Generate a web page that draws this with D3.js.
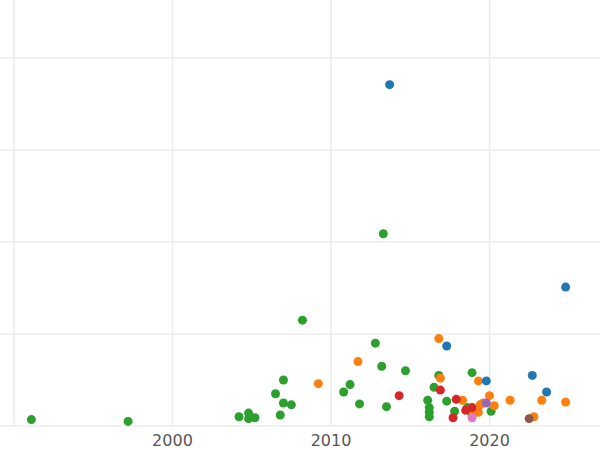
<!DOCTYPE html>
<html><head><meta charset="utf-8">
<script src="https://cdn.jsdelivr.net/npm/d3@7"></script>
<style>body{margin:0;background:#fff}</style>
</head><body><div id="chart"></div>
<script>
//Data: [year, value]
var blue = [[2013.7,3.71],[2024.8,1.51],[2017.3,0.87],[2022.7,0.55],[2019.8,0.49],[2023.6,0.37]];
var orange = [[2016.8,0.95],[2011.7,0.70],[2009.2,0.46],[2016.9,0.52],[2019.3,0.49],[2020,0.33],[2021.3,0.28],
  [2023.3,0.28],[2024.8,0.26],[2022.8,0.10],[2018.3,0.28],[2019.4,0.23],[2019.3,0.15],[2020.3,0.22],[2018.8,0.17],[2019.6,0.25]];
var green = [[1991.1,0.07],[1997.2,0.05],[2008.2,1.15],[2013.3,2.09],[2012.8,0.90],[2013.2,0.65],[2014.7,0.60],
  [2007.0,0.50],[2006.5,0.35],[2010.8,0.37],[2011.2,0.45],[2011.8,0.24],[2013.5,0.21],[2007.0,0.25],[2007.5,0.23],
  [2006.8,0.12],[2004.2,0.10],[2004.8,0.14],[2004.8,0.08],[2005.2,0.09],[2016.5,0.42],[2016.8,0.55],[2016.1,0.28],
  [2016.2,0.20],[2016.2,0.15],[2016.2,0.10],[2017.3,0.27],[2018.9,0.58],[2017.8,0.16],[2020.1,0.16],[2018.6,0.20],[2018.9,0.12]];
var red = [[2014.3,0.33],[2016.9,0.39],[2017.9,0.29],[2017.7,0.09],[2018.5,0.17],[2018.9,0.20]];
var purple = [[2019.8,0.25]];
var pink = [[2018.9,0.09]];
var brown = [[2022.5,0.08]];
var xTicks = [1990, 2000, 2010, 2020];
var yTicks = [0, 1, 2, 3, 4];

var series = [
  {pts: green, color: "#2ca02c"},
  {pts: orange, color: "#ff7f0e"},
  {pts: blue, color: "#1f77b4"},
  {pts: red, color: "#d62728"},
  {pts: purple, color: "#9467bd"},
  {pts: pink, color: "#e377c2"},
  {pts: brown, color: "#8c564b"}
];

var width = 600, height = 450;
var x = d3.scaleLinear().domain([1989.12, 2026.97]).range([0, width]);
var y = d3.scaleLinear().domain([0, 4.63]).range([426, 0]);

var svg = d3.select("#chart").append("svg").attr("width", width).attr("height", height);

svg.append("g").selectAll("line").data(xTicks).enter().append("line")
  .attr("x1", x).attr("x2", x).attr("y1", 0).attr("y2", 426)
  .attr("stroke", "#ebebeb").attr("stroke-width", 1.5);
svg.append("g").selectAll("line").data(yTicks).enter().append("line")
  .attr("x1", 0).attr("x2", width).attr("y1", y).attr("y2", y)
  .attr("stroke", "#ebebeb").attr("stroke-width", 1.5);

svg.append("g").selectAll("text").data(xTicks.slice(1)).enter().append("text")
  .attr("x", x).attr("y", 446).attr("text-anchor", "middle")
  .style("font-family", "DejaVu Sans").style("font-size", "16px").style("fill", "#555")
  .text(function (d) { return d; });

series.forEach(function (s) {
  svg.append("g").selectAll("circle").data(s.pts).enter().append("circle")
    .attr("cx", function (d) { return x(d[0]); })
    .attr("cy", function (d) { return y(d[1]); })
    .attr("r", 4.5).attr("fill", s.color);
});
</script></body></html>
